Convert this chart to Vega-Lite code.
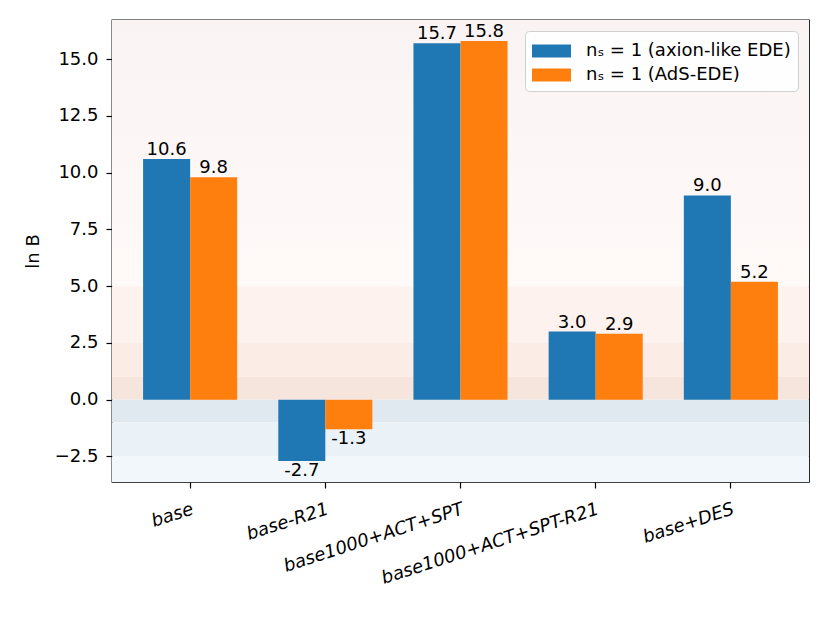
{
  "$schema": "https://vega.github.io/schema/vega-lite/v6.json",
  "width": 697,
  "height": 462,
  "autosize": {"type": "none"},
  "padding": {"left": 112, "top": 20, "right": 21, "bottom": 141},
  "background": "white",
  "datasets": {
    "bars": [
      {"run": "base", "model": "nₛ = 1 (axion-like EDE)", "lnB": 10.6},
      {"run": "base", "model": "nₛ = 1 (AdS-EDE)", "lnB": 9.8},
      {"run": "base-R21", "model": "nₛ = 1 (axion-like EDE)", "lnB": -2.7},
      {"run": "base-R21", "model": "nₛ = 1 (AdS-EDE)", "lnB": -1.3},
      {"run": "base1000+ACT+SPT", "model": "nₛ = 1 (axion-like EDE)", "lnB": 15.7},
      {"run": "base1000+ACT+SPT", "model": "nₛ = 1 (AdS-EDE)", "lnB": 15.8},
      {"run": "base1000+ACT+SPT-R21", "model": "nₛ = 1 (axion-like EDE)", "lnB": 3.0},
      {"run": "base1000+ACT+SPT-R21", "model": "nₛ = 1 (AdS-EDE)", "lnB": 2.9},
      {"run": "base+DES", "model": "nₛ = 1 (axion-like EDE)", "lnB": 9.0},
      {"run": "base+DES", "model": "nₛ = 1 (AdS-EDE)", "lnB": 5.2}
    ],
    "zones": [
      {"zone": "strong+", "lo": 5, "hi": 16.725},
      {"zone": "moderate+", "lo": 2.5, "hi": 5},
      {"zone": "weak+", "lo": 1, "hi": 2.5},
      {"zone": "inconclusive+", "lo": 0, "hi": 1},
      {"zone": "inconclusive-", "lo": -1, "hi": 0},
      {"zone": "weak-", "lo": -2.5, "hi": -1},
      {"zone": "moderate-", "lo": -3.625, "hi": -2.5}
    ]
  },
  "layer": [
    {
      "data": {"name": "zones"},
      "transform": [{"filter": "datum.zone != 'strong+'"}],
      "mark": {"type": "rect", "strokeWidth": 0},
      "encoding": {
        "y": {"field": "lo", "type": "quantitative"},
        "y2": {"field": "hi"},
        "fill": {
          "field": "zone",
          "type": "nominal",
          "legend": null,
          "scale": {
            "domain": ["moderate+", "weak+", "inconclusive+", "inconclusive-", "weak-", "moderate-"],
            "range": ["#fdf2ee", "#fbece5", "#f6e5dd", "#e1e9f0", "#eaf1f7", "#f1f7fb"]
          }
        }
      }
    },
    {
      "data": {"name": "zones"},
      "transform": [{"filter": "datum.zone == 'strong+'"}],
      "mark": {
        "type": "rect",
        "strokeWidth": 0,
        "fill": {
          "gradient": "linear",
          "x1": 0, "y1": 0, "x2": 0, "y2": 1,
          "stops": [
            {"offset": 0, "color": "#f9f4f3"},
            {"offset": 1, "color": "#fffaf8"}
          ]
        }
      },
      "encoding": {
        "y": {"field": "lo", "type": "quantitative"},
        "y2": {"field": "hi"}
      }
    },
    {
      "data": {"name": "bars"},
      "mark": {"type": "bar", "strokeWidth": 0},
      "encoding": {
        "x": {
          "field": "run",
          "type": "nominal",
          "sort": null,
          "title": null,
          "scale": {"paddingInner": 0.304, "paddingOuter": 0.23},
          "axis": {
            "labelAngle": -18,
            "labelAlign": "right",
            "labelBaseline": "top",
            "labelFontStyle": "italic",
            "labelPadding": 12,
            "labelOverlap": false,
            "labelLimit": 600
          }
        },
        "xOffset": {
          "field": "model",
          "type": "nominal",
          "sort": null,
          "scale": {"paddingInner": 0, "paddingOuter": 0}
        },
        "y": {
          "field": "lnB",
          "type": "quantitative",
          "title": "ln B",
          "scale": {"domain": [-3.625, 16.725], "nice": false, "zero": false},
          "axis": {
            "values": [-2.5, 0, 2.5, 5, 7.5, 10, 12.5, 15],
            "format": ".1f",
            "labelPadding": 8,
            "titlePadding": 12
          }
        },
        "color": {
          "field": "model",
          "type": "nominal",
          "sort": null,
          "title": null,
          "scale": {
            "domain": ["nₛ = 1 (axion-like EDE)", "nₛ = 1 (AdS-EDE)"],
            "range": ["#1f77b4", "#ff7f0e"]
          },
          "legend": {
            "orient": "top-right",
            "offset": 11,
            "symbolType": "M-1,-0.5H2V0.5H-1Z",
            "symbolSize": 676,
            "symbolStrokeWidth": 0,
            "symbolOpacity": 1,
            "labelFontSize": 18,
            "labelOffset": 28,
            "labelLimit": 400,
            "rowPadding": 2,
            "padding": 7,
            "fillColor": "rgba(255,255,255,0.85)",
            "strokeColor": "#d0d0d0",
            "cornerRadius": 4
          }
        }
      }
    },
    {
      "mark": {"type": "rule", "color": "black", "strokeWidth": 1.5},
      "encoding": {"y": {"datum": 0, "type": "quantitative"}}
    },
    {
      "data": {"name": "bars"},
      "transform": [
        {"filter": "datum.lnB >= 0"},
        {"calculate": "format(datum.lnB, '.1f')", "as": "label"}
      ],
      "mark": {"type": "text", "baseline": "alphabetic", "dy": -4, "fontSize": 18, "color": "black"},
      "encoding": {
        "x": {"field": "run", "type": "nominal", "sort": null},
        "xOffset": {"field": "model", "type": "nominal", "sort": null},
        "y": {"field": "lnB", "type": "quantitative"},
        "text": {"field": "label"}
      }
    },
    {
      "data": {"name": "bars"},
      "transform": [
        {"filter": "datum.lnB < 0"},
        {"calculate": "replace(format(datum.lnB, '.1f'), '\u2212', '-')", "as": "label"}
      ],
      "mark": {"type": "text", "baseline": "alphabetic", "dy": 15, "fontSize": 18, "color": "black"},
      "encoding": {
        "x": {"field": "run", "type": "nominal", "sort": null},
        "xOffset": {"field": "model", "type": "nominal", "sort": null},
        "y": {"field": "lnB", "type": "quantitative"},
        "text": {"field": "label"}
      }
    }
  ],
  "config": {
    "font": "DejaVu Sans",
    "view": {"stroke": "black", "strokeWidth": 1.3},
    "axis": {
      "grid": false,
      "domain": false,
      "labelFontSize": 18,
      "labelColor": "black",
      "tickColor": "black",
      "tickSize": 6,
      "tickWidth": 1.2,
      "titleFontSize": 18,
      "titleFontWeight": "normal",
      "titleColor": "black"
    },
    "legend": {"labelColor": "black", "labelFont": "DejaVu Sans"}
  }
}
